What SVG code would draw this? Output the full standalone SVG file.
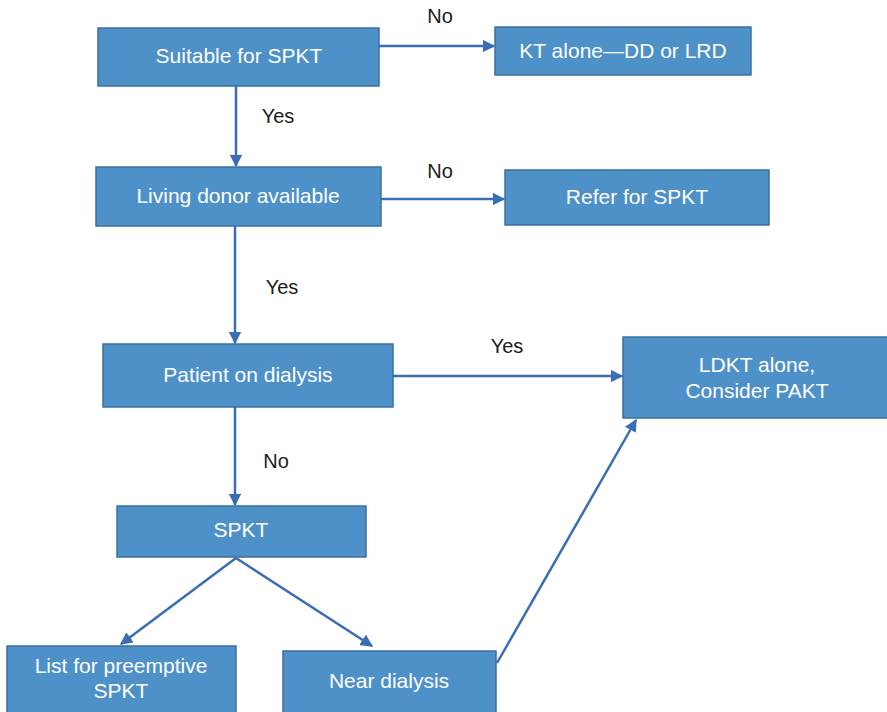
<svg xmlns="http://www.w3.org/2000/svg" width="887" height="712" viewBox="0 0 887 712">
<style>
.box{fill:#4d91c8;stroke:#3d6f9e;stroke-width:1.5}
.bt{font-family:"Liberation Sans",Arial,sans-serif;font-size:21px;fill:#ffffff;text-anchor:middle}
.lb{font-family:"Liberation Sans",Arial,sans-serif;font-size:20px;fill:#1a1a1a;text-anchor:middle}
.cn{stroke:#3a6db5;stroke-width:2.5;fill:none;marker-end:url(#ah)}
</style>
<defs>
<marker id="ah" viewBox="0 0 10 10" refX="9" refY="5" markerWidth="5" markerHeight="5" orient="auto" markerUnits="strokeWidth">
<path d="M0,0 L10,5 L0,10 z" fill="#3a6db5"/>
</marker>
</defs>
<rect width="887" height="712" fill="#ffffff"/>
<g id="connectors">
<line class="cn" x1="379" y1="46" x2="494" y2="46"/>
<line class="cn" x1="236" y1="86" x2="236" y2="166"/>
<line class="cn" x1="381" y1="199" x2="504" y2="199"/>
<line class="cn" x1="235" y1="226" x2="235" y2="343"/>
<line class="cn" x1="393" y1="376" x2="622" y2="376"/>
<line class="cn" x1="235" y1="407" x2="235" y2="505"/>
<line class="cn" x1="236" y1="558" x2="121" y2="644"/>
<line class="cn" x1="236" y1="558" x2="372" y2="646"/>
<line class="cn" x1="497" y1="663" x2="636" y2="420"/>
<text class="lb" x="440" y="23">No</text>
<text class="lb" x="278" y="123">Yes</text>
<text class="lb" x="440" y="178">No</text>
<text class="lb" x="282" y="294">Yes</text>
<text class="lb" x="507" y="353">Yes</text>
<text class="lb" x="276" y="468">No</text>
</g>
<g id="suitable"><rect class="box" x="98" y="28" width="281" height="58"/><text class="bt" x="239" y="63">Suitable for SPKT</text></g>
<g id="kt-alone"><rect class="box" x="495" y="27" width="256" height="48"/><text class="bt" x="623" y="58">KT alone—DD or LRD</text></g>
<g id="living-donor"><rect class="box" x="96" y="167" width="285" height="59"/><text class="bt" x="238" y="203">Living donor available</text></g>
<g id="refer"><rect class="box" x="505" y="170" width="264" height="55"/><text class="bt" x="637" y="204">Refer for SPKT</text></g>
<g id="dialysis"><rect class="box" x="103" y="344" width="290" height="63"/><text class="bt" x="248" y="382">Patient on dialysis</text></g>
<g id="ldkt"><rect class="box" x="623" y="337" width="266" height="81"/><text class="bt" x="757" y="372">LDKT alone,</text><text class="bt" x="757" y="398">Consider PAKT</text></g>
<g id="spkt"><rect class="box" x="117" y="506" width="249" height="51"/><text class="bt" x="241" y="537">SPKT</text></g>
<g id="list"><rect class="box" x="7" y="646" width="229" height="68"/><text class="bt" x="121" y="673">List for preemptive</text><text class="bt" x="121" y="698">SPKT</text></g>
<g id="near"><rect class="box" x="283" y="651" width="213" height="63"/><text class="bt" x="389" y="688">Near dialysis</text></g>
</svg>
